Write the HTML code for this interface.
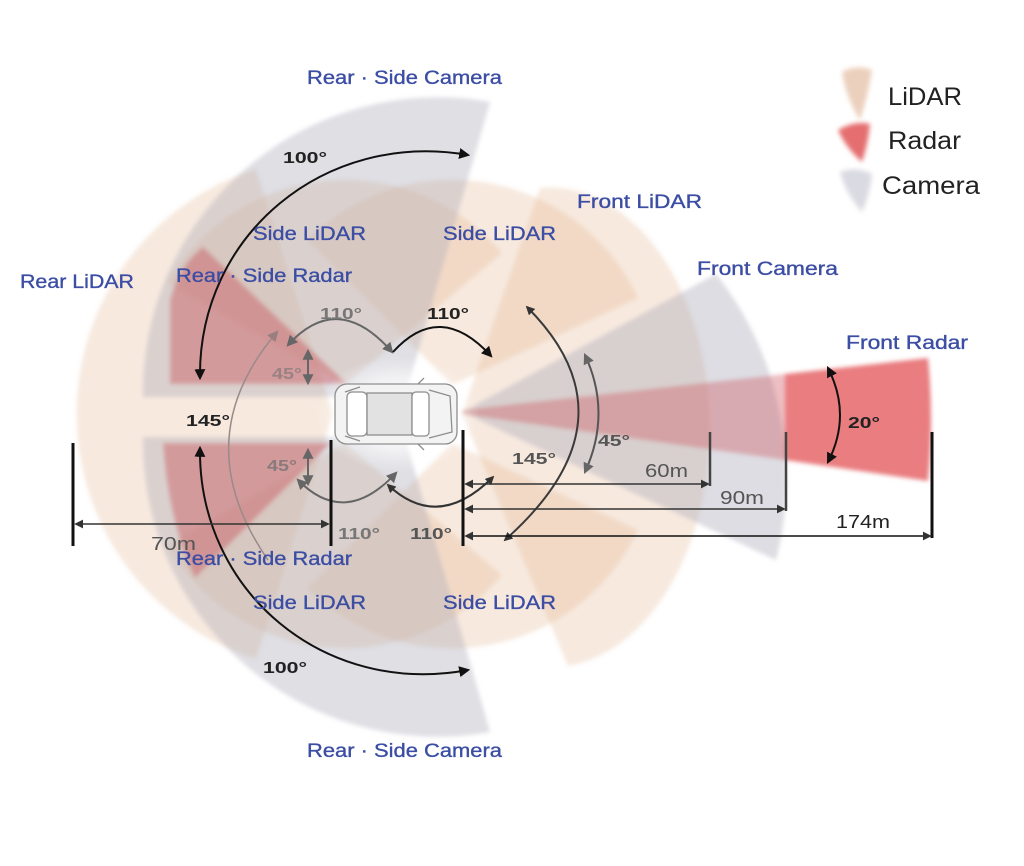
<!DOCTYPE html>
<html>
<head>
<meta charset="utf-8">
<style>
html,body{margin:0;padding:0;background:#fff;}
svg{display:block;}
.lb{font-family:"Liberation Sans","DejaVu Sans",sans-serif;font-size:19px;fill:#3c4ea4;stroke:#3c4ea4;stroke-width:0.35;}
.dg{font-family:"Liberation Sans","DejaVu Sans",sans-serif;font-size:16px;font-weight:bold;}
.dm{font-family:"Liberation Sans","DejaVu Sans",sans-serif;font-size:18px;}
.lg{font-family:"Liberation Sans","DejaVu Sans",sans-serif;font-size:25px;fill:#222;}
</style>
</head>
<body>
<svg width="1024" height="866" viewBox="0 0 1024 866" xmlns="http://www.w3.org/2000/svg">
<defs>
  <filter id="bl" x="-10%" y="-10%" width="120%" height="120%"><feGaussianBlur stdDeviation="2"/></filter>
  <filter id="bl2" x="-30%" y="-30%" width="160%" height="160%"><feGaussianBlur stdDeviation="2.5"/></filter>
  <radialGradient id="glow" cx="0.5" cy="0.5" r="0.5">
    <stop offset="0" stop-color="#fff" stop-opacity="0.95"/>
    <stop offset="0.6" stop-color="#fff" stop-opacity="0.6"/>
    <stop offset="1" stop-color="#fff" stop-opacity="0"/>
  </radialGradient>
  <marker id="ab" viewBox="0 0 10 10" refX="8" refY="5" markerWidth="11" markerHeight="11" markerUnits="userSpaceOnUse" orient="auto-start-reverse">
    <path d="M0,0 L10,5 L0,10 z" fill="#111"/>
  </marker>
  <marker id="ag" viewBox="0 0 10 10" refX="8" refY="5" markerWidth="11" markerHeight="11" markerUnits="userSpaceOnUse" orient="auto-start-reverse">
    <path d="M0,0 L10,5 L0,10 z" fill="#666"/>
  </marker>
  <marker id="ar" viewBox="0 0 10 10" refX="8" refY="5" markerWidth="11" markerHeight="11" markerUnits="userSpaceOnUse" orient="auto-start-reverse">
    <path d="M0,0 L10,5 L0,10 z" fill="#9a7f80"/>
  </marker>
  <marker id="ad" viewBox="0 0 10 10" refX="8" refY="5" markerWidth="9" markerHeight="9" markerUnits="userSpaceOnUse" orient="auto-start-reverse">
    <path d="M0,0 L10,5 L0,10 z" fill="#333"/>
  </marker>
</defs>

<g filter="url(#bl)">
  <!-- Rear LiDAR -->
  <path d="M333,414 L256,169 A257 257 0 0 0 256,659 Z" fill="rgb(228,175,135)" fill-opacity="0.28"/>
  <!-- Side LiDARs -->
  <path d="M345,385 L167,283 A205 205 0 0 1 502,253 Z" fill="rgb(228,175,135)" fill-opacity="0.28"/>
  <path d="M452,385 L307,240 A205 205 0 0 1 638,298 Z" fill="rgb(228,175,135)" fill-opacity="0.28"/>
  <path d="M345,443 L167,545 A205 205 0 0 0 502,575 Z" fill="rgb(228,175,135)" fill-opacity="0.28"/>
  <path d="M452,443 L307,588 A205 205 0 0 0 638,530 Z" fill="rgb(228,175,135)" fill-opacity="0.28"/>
  <!-- Front LiDAR -->
  <path d="M462,414 L540,188 A160 240 0 0 1 568,666 Z" fill="rgb(228,175,135)" fill-opacity="0.28"/>
  <!-- Rear-side cameras -->
  <path d="M405,397 L143,397 A295 295 0 0 1 490,102 Z" fill="rgb(170,170,185)" fill-opacity="0.38"/>
  <path d="M405,437 L143,437 A295 295 0 0 0 490,732 Z" fill="rgb(170,170,185)" fill-opacity="0.38"/>
  <!-- Front camera -->
  <path d="M462,412 L716,274 A330 330 0 0 1 776,560 Z" fill="rgb(170,170,185)" fill-opacity="0.4"/>
  <!-- Rear-side radars -->
  <path d="M347,384 L170,384 L170,300 Q180,264 203,247 Z" fill="rgb(200,70,80)" fill-opacity="0.4"/>
  <path d="M331,443 L163,443 Q168,520 195,578 Z" fill="rgb(200,70,80)" fill-opacity="0.4"/>
  <!-- Front radar -->
  <path d="M462,410 L785,374 L785,460 L462,414 Z" fill="rgb(205,80,88)" fill-opacity="0.36"/>
  <path d="M785,374 L928,358 Q934,419 928,481 L785,460 Z" fill="rgb(232,118,120)" fill-opacity="0.95"/>
</g>

<!-- glow around car -->
<ellipse cx="398" cy="414" rx="82" ry="58" fill="url(#glow)"/>

<!-- Car -->
<g stroke="#8e8e8e" stroke-width="1.3" fill="none">
  <rect x="335" y="384" width="122" height="60" rx="12" fill="#f3f3f3"/>
  <rect x="347" y="392" width="20" height="44" rx="5" fill="#fff"/>
  <rect x="367" y="393" width="45" height="42" fill="#e2e2e2"/>
  <rect x="412" y="392" width="17" height="44" rx="4" fill="#fff"/>
  <path d="M429,390 L450,396 L452,432 L429,438"/>
  <path d="M345,392 L360,387 M345,436 L360,441"/>
  <path d="M418,384 L424,378 M418,444 L424,450"/>
</g>

<!-- Arcs -->
<g fill="none" stroke-width="2">
  <path d="M200,378 C198,235 325,130 468,155" stroke="#111" marker-start="url(#ab)" marker-end="url(#ab)"/>
  <path d="M200,448 C198,592 325,697 468,670" stroke="#111" marker-start="url(#ab)" marker-end="url(#ab)"/>
  <path d="M288,345 Q338,290 392,352" stroke="#666" marker-start="url(#ag)" marker-end="url(#ag)"/>
  <path d="M393,352 Q440,300 491,356" stroke="#111" marker-end="url(#ab)"/>
  <path d="M298,480 Q345,528 396,473" stroke="#666" marker-start="url(#ag)" marker-end="url(#ag)"/>
  <path d="M388,485 Q438,532 493,477" stroke="#333" marker-start="url(#ad)" marker-end="url(#ad)"/>
  <path d="M277,332 Q185,440 268,560" stroke="#9a8a8a" stroke-width="1.5" marker-start="url(#ar)"/>
  <path d="M527,307 Q640,420 505,540" stroke="#3a3a3a" marker-start="url(#ad)" marker-end="url(#ad)"/>
  <path d="M585,355 Q612,413 585,472" stroke="#555" marker-start="url(#ag)" marker-end="url(#ag)"/>
  <path d="M828,368 Q852,415 828,462" stroke="#111" marker-start="url(#ab)" marker-end="url(#ab)"/>
  <path d="M308,351 L308,383" stroke="#666" marker-start="url(#ag)" marker-end="url(#ag)"/>
  <path d="M308,450 L308,484" stroke="#666" marker-start="url(#ag)" marker-end="url(#ag)"/>
</g>

<!-- Dimension lines -->
<g stroke="#111" stroke-width="3">
  <line x1="73" y1="443" x2="73" y2="546"/>
  <line x1="331" y1="440" x2="331" y2="546"/>
  <line x1="463" y1="430" x2="463" y2="546"/>
  <line x1="932" y1="432" x2="932" y2="538"/>
</g>
<g stroke="#444" stroke-width="2.5">
  <line x1="710" y1="432" x2="710" y2="486"/>
  <line x1="786" y1="432" x2="786" y2="511"/>
</g>
<g fill="none" stroke-width="1.6">
  <line x1="76" y1="524" x2="328" y2="524" stroke="#333" marker-start="url(#ad)" marker-end="url(#ad)"/>
  <line x1="466" y1="484" x2="708" y2="484" stroke="#333" marker-start="url(#ad)" marker-end="url(#ad)"/>
  <line x1="466" y1="509" x2="784" y2="509" stroke="#333" marker-start="url(#ad)" marker-end="url(#ad)"/>
  <line x1="466" y1="536" x2="930" y2="536" stroke="#111" marker-start="url(#ad)" marker-end="url(#ad)"/>
</g>

<!-- Blue labels -->
<text class="lb" x="307" y="84" textLength="195" lengthAdjust="spacingAndGlyphs">Rear · Side Camera</text>
<text class="lb" x="253" y="240" textLength="113" lengthAdjust="spacingAndGlyphs">Side LiDAR</text>
<text class="lb" x="443" y="240" textLength="113" lengthAdjust="spacingAndGlyphs">Side LiDAR</text>
<text class="lb" x="577" y="208" textLength="125" lengthAdjust="spacingAndGlyphs">Front LiDAR</text>
<text class="lb" x="20" y="288" textLength="114" lengthAdjust="spacingAndGlyphs">Rear LiDAR</text>
<text class="lb" x="176" y="282" textLength="176" lengthAdjust="spacingAndGlyphs">Rear · Side Radar</text>
<text class="lb" x="697" y="275" textLength="141" lengthAdjust="spacingAndGlyphs">Front Camera</text>
<text class="lb" x="846" y="349" textLength="122" lengthAdjust="spacingAndGlyphs">Front Radar</text>
<text class="lb" x="176" y="565" textLength="176" lengthAdjust="spacingAndGlyphs">Rear · Side Radar</text>
<text class="lb" x="253" y="609" textLength="113" lengthAdjust="spacingAndGlyphs">Side LiDAR</text>
<text class="lb" x="443" y="609" textLength="113" lengthAdjust="spacingAndGlyphs">Side LiDAR</text>
<text class="lb" x="307" y="757" textLength="195" lengthAdjust="spacingAndGlyphs">Rear · Side Camera</text>

<!-- Degree labels -->
<text class="dg" x="283" y="163" fill="#222" textLength="44" lengthAdjust="spacingAndGlyphs">100°</text>
<text class="dg" x="263" y="673" fill="#222" textLength="44" lengthAdjust="spacingAndGlyphs">100°</text>
<text class="dg" x="186" y="426" fill="#222" textLength="44" lengthAdjust="spacingAndGlyphs">145°</text>
<text class="dg" x="320" y="319" fill="#777" textLength="42" lengthAdjust="spacingAndGlyphs">110°</text>
<text class="dg" x="427" y="319" fill="#222" textLength="42" lengthAdjust="spacingAndGlyphs">110°</text>
<text class="dg" x="272" y="379" fill="#9a8284" textLength="30" lengthAdjust="spacingAndGlyphs">45°</text>
<text class="dg" x="267" y="471" fill="#8a7a7c" textLength="30" lengthAdjust="spacingAndGlyphs">45°</text>
<text class="dg" x="338" y="539" fill="#777" textLength="42" lengthAdjust="spacingAndGlyphs">110°</text>
<text class="dg" x="410" y="539" fill="#555" textLength="42" lengthAdjust="spacingAndGlyphs">110°</text>
<text class="dg" x="512" y="464" fill="#555" textLength="44" lengthAdjust="spacingAndGlyphs">145°</text>
<text class="dg" x="598" y="446" fill="#555" textLength="32" lengthAdjust="spacingAndGlyphs">45°</text>
<text class="dg" x="848" y="428" fill="#222" textLength="32" lengthAdjust="spacingAndGlyphs">20°</text>

<!-- Distance labels -->
<text class="dm" x="645" y="477" fill="#555" textLength="43" lengthAdjust="spacingAndGlyphs">60m</text>
<text class="dm" x="720" y="504" fill="#555" textLength="44" lengthAdjust="spacingAndGlyphs">90m</text>
<text class="dm" x="836" y="528" fill="#222" textLength="54" lengthAdjust="spacingAndGlyphs">174m</text>
<text class="dm" x="151" y="550" fill="#555" textLength="45" lengthAdjust="spacingAndGlyphs">70m</text>

<!-- Legend -->
<g filter="url(#bl2)">
  <path d="M842,72 Q856,64 872,70 Q868,96 860,120 Q846,98 842,72 Z" fill="rgb(236,208,190)"/>
  <path d="M838,130 Q855,120 870,124 Q868,144 862,162 Q846,148 838,130 Z" fill="rgb(229,110,112)"/>
  <path d="M840,172 Q856,166 872,174 Q870,194 862,212 Q846,194 840,172 Z" fill="rgb(218,218,226)"/>
</g>
<text class="lg" x="888" y="105" textLength="74" lengthAdjust="spacingAndGlyphs">LiDAR</text>
<text class="lg" x="888" y="149" textLength="73" lengthAdjust="spacingAndGlyphs">Radar</text>
<text class="lg" x="882" y="194" textLength="98" lengthAdjust="spacingAndGlyphs">Camera</text>
</svg>
</body>
</html>
